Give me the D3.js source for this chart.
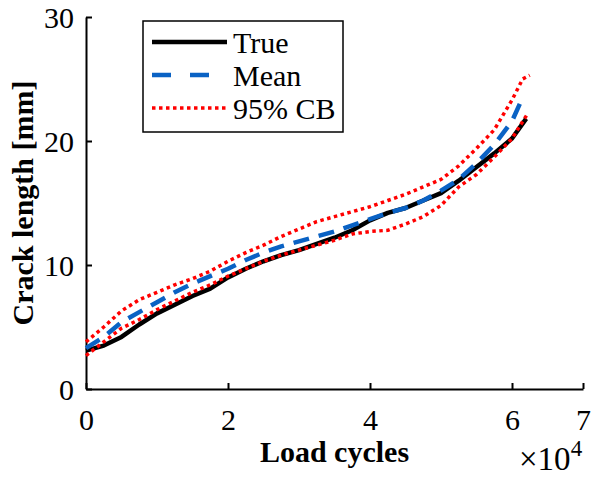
<!DOCTYPE html>
<html>
<head>
<meta charset="utf-8">
<script src="https://cdn.jsdelivr.net/npm/d3@7"></script>
<style>
  body { margin: 0; background: #fff; }
  svg, svg text { font-family: "Liberation Serif", "Times New Roman", serif; }
</style>
</head>
<body>
<div class="chart"></div>
<script>
// load cycles in units of 10^4
const trueX = [0, 0.25, 0.5, 0.75, 1.0, 1.25, 1.5, 1.75, 2.0, 2.25, 2.5, 2.75, 3.0, 3.25, 3.5, 3.75, 4.0, 4.25, 4.5, 4.75, 5.0, 5.25, 5.5, 5.75, 6.0, 6.2];
const trueY = [3.1, 3.5, 4.2, 5.2, 6.1, 6.8, 7.5, 8.1, 9.0, 9.7, 10.3, 10.8, 11.2, 11.7, 12.2, 12.8, 13.6, 14.2, 14.6, 15.2, 15.8, 16.8, 17.9, 19.0, 20.2, 21.8];

const meanX = [0, 0.25, 0.5, 0.75, 1.0, 1.25, 1.5, 1.75, 2.0, 2.25, 2.5, 2.75, 3.0, 3.25, 3.5, 3.75, 4.0, 4.25, 4.5, 4.75, 5.0, 5.25, 5.5, 5.75, 6.0, 6.15];
const meanY = [3.3, 4.2, 5.4, 6.2, 7.0, 7.8, 8.5, 9.1, 9.7, 10.4, 11.0, 11.5, 11.9, 12.3, 12.7, 13.2, 13.7, 14.2, 14.6, 15.2, 16.0, 16.9, 18.2, 19.7, 21.6, 23.5];

const upperX = [0, 0.25, 0.5, 0.75, 1.0, 1.25, 1.5, 1.75, 2.0, 2.25, 2.5, 2.75, 3.0, 3.25, 3.5, 3.75, 4.0, 4.25, 4.5, 4.75, 5.0, 5.25, 5.5, 5.75, 6.0, 6.15, 6.25];
const upperY = [3.8, 5.0, 6.3, 7.2, 7.8, 8.4, 8.9, 9.5, 10.3, 11.0, 11.6, 12.3, 12.9, 13.5, 13.9, 14.3, 14.7, 15.2, 15.7, 16.3, 16.9, 18.0, 19.4, 20.9, 23.3, 25.0, 25.3];

const lowerX = [0, 0.25, 0.5, 0.75, 1.0, 1.25, 1.5, 1.75, 2.0, 2.25, 2.5, 2.75, 3.0, 3.25, 3.5, 3.75, 4.0, 4.25, 4.5, 4.75, 5.0, 5.25, 5.5, 5.75, 6.0, 6.22];
const lowerY = [2.7, 3.8, 4.9, 5.6, 6.4, 7.1, 7.8, 8.4, 9.1, 9.7, 10.3, 10.8, 11.2, 11.6, 12.0, 12.5, 12.7, 12.8, 13.3, 13.9, 14.8, 16.3, 17.3, 18.7, 20.2, 22.2];

const xTicks = [0, 2, 4, 6, 7];
const yTicks = [0, 10, 20, 30];
const legendLabels = ["True", "Mean", "95% CB"];

const W = 591, H = 480;
const margin = {top: 17, right: 8, bottom: 91, left: 86},
    width = W - margin.left - margin.right,
    height = H - margin.top - margin.bottom;

const svg = d3.select(".chart")
  .append("svg")
    .attr("width", W)
    .attr("height", H);

const g = svg.append("g")
    .attr("transform", "translate(" + margin.left + "," + margin.top + ")");

const x = d3.scaleLinear().domain([0, 7]).range([0, width]);
const y = d3.scaleLinear().domain([0, 30]).range([height, 0]);

// axes (box off, ticks inward)
const xAxis = g.append("g")
    .attr("transform", "translate(0," + height + ")")
    .call(d3.axisBottom(x).tickValues(xTicks).tickFormat(d3.format("d")).tickSizeInner(-6).tickSizeOuter(0));
xAxis.selectAll("text").attr("y", 41).attr("dy", null);

const yAxis = g.append("g")
    .call(d3.axisLeft(y).tickValues(yTicks).tickSizeInner(-6).tickSizeOuter(0));
yAxis.selectAll("text").attr("x", -12).attr("dy", "0.35em");

[xAxis, yAxis].forEach(a => {
  a.attr("font-family", "Liberation Serif").attr("font-size", 30);
  a.select(".domain").attr("stroke", "#000").attr("stroke-width", 2);
  a.selectAll(".tick line").attr("stroke", "#000").attr("stroke-width", 2);
  a.selectAll("text")
    .attr("fill", "#000")
    .style("font-family", "'Liberation Serif', serif")
    .style("font-size", "30px");
});

const styles = [
  {color: "#000000", width: 4.5, dash: null},
  {color: "#0a62c4", width: 4.5, dash: "16,10"},
  {color: "#ff0000", width: 3.5, dash: "3.5,3.5"}
];

const line = d3.line().x(d => x(d[0])).y(d => y(d[1]));
const zip = (xs, ys) => xs.map((v, i) => [v, ys[i]]);

const series = [
  {pts: zip(trueX, trueY), s: styles[0]},
  {pts: zip(meanX, meanY), s: styles[1]},
  {pts: zip(upperX, upperY), s: styles[2]},
  {pts: zip(lowerX, lowerY), s: styles[2]}
];

series.forEach(d => {
  g.append("path")
    .datum(d.pts)
    .attr("fill", "none")
    .attr("stroke", d.s.color)
    .attr("stroke-width", d.s.width)
    .attr("stroke-dasharray", d.s.dash)
    .attr("stroke-linejoin", "round")
    .attr("d", line);
});

// axis labels
svg.append("text")
    .attr("text-anchor", "middle")
    .attr("x", margin.left + width / 2)
    .attr("y", 462)
    .style("font-size", "30px")
    .style("font-weight", "bold")
    .text("Load cycles");

svg.append("text")
    .attr("text-anchor", "middle")
    .attr("transform", "translate(33," + (margin.top + height / 2) + ") rotate(-90)")
    .style("font-size", "30px")
    .style("font-weight", "bold")
    .text("Crack length [mm]");

// exponent label
const ex = svg.append("text")
    .attr("x", 519)
    .attr("y", 470)
    .style("font-size", "33px");
ex.append("tspan").text("\u00d710");
ex.append("tspan").attr("dy", -14).style("font-size", "23px").text("4");

// legend
const lg = svg.append("g");
lg.append("rect")
    .attr("x", 143).attr("y", 21)
    .attr("width", 200).attr("height", 111)
    .attr("fill", "#fff")
    .attr("stroke", "#000")
    .attr("stroke-width", 1.5);

legendLabels.forEach((lab, i) => {
  const cy = 42 + i * 33;
  const s = styles[i];
  lg.append("line")
    .attr("x1", 152).attr("x2", 227)
    .attr("y1", cy).attr("y2", cy)
    .attr("stroke", s.color)
    .attr("stroke-width", s.width)
    .attr("stroke-dasharray", i === 1 ? "19,19" : s.dash);
  lg.append("text")
    .attr("x", 233)
    .attr("y", cy + 11)
    .style("font-size", "30px")
    .text(lab);
});
</script>
</body>
</html>
